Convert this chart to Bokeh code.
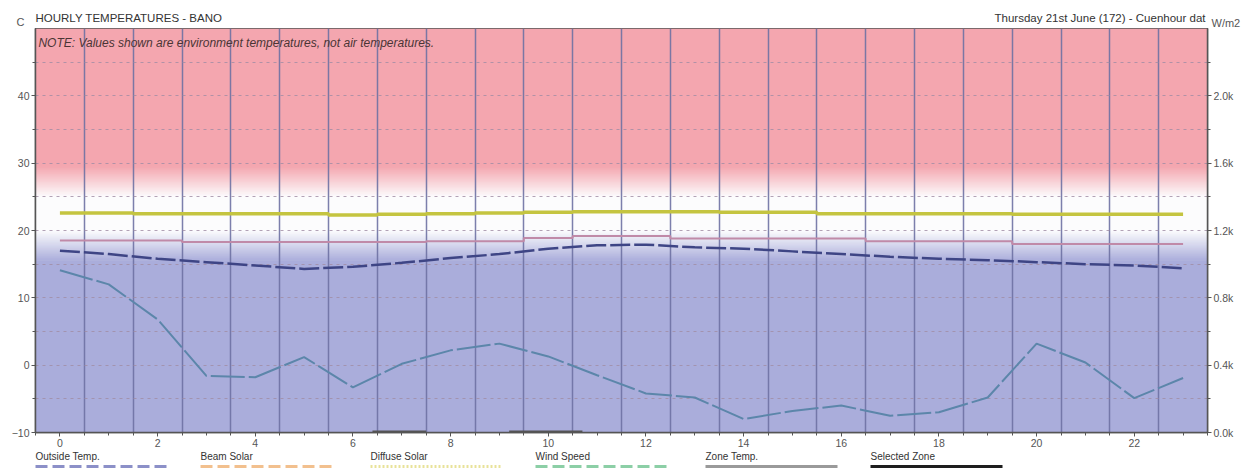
import numpy as np
from bokeh.plotting import figure
from bokeh.models import Range1d, LinearAxis, FixedTicker, Label
from bokeh.embed import file_html
from bokeh.resources import INLINE

# ---------------- data ----------------
hours = list(range(24))
outside_temp = [17.0, 16.5, 15.8, 15.3, 14.8, 14.3, 14.6, 15.2, 15.9, 16.5, 17.3, 17.8,
                17.9, 17.5, 17.3, 16.9, 16.5, 16.1, 15.8, 15.6, 15.3, 15.0, 14.8, 14.4]
lower_temp = [14.1, 12.0, 6.8, -1.6, -1.8, 1.2, -3.3, 0.2, 2.2, 3.2, 1.3, -1.5,
              -4.2, -4.8, -8.0, -6.8, -6.0, -7.5, -7.0, -4.8, 3.2, 0.4, -4.9, -1.9]
zone_a_temp = [22.6, 22.6, 22.5, 22.5, 22.5, 22.5, 22.3, 22.4, 22.5, 22.6, 22.7, 22.8,
               22.8, 22.8, 22.7, 22.7, 22.5, 22.5, 22.5, 22.5, 22.4, 22.4, 22.4, 22.4]
zone_b_temp = [18.5, 18.5, 18.5, 18.3, 18.3, 18.3, 18.3, 18.3, 18.4, 18.4, 18.9, 19.2,
               19.2, 18.8, 18.8, 18.8, 18.8, 18.4, 18.4, 18.4, 18.0, 18.0, 18.0, 18.0]
axis_seg_start = [6.4, 9.2]
axis_seg_end = [7.5, 10.7]

temp_ticks = [-10, 0, 10, 20, 30, 40]
temp_minor = [-5, 5, 15, 25, 35, 45]
solar_ticks = [0, 400, 800, 1200, 1600, 2000]
solar_labels = ["0.0k", "0.4k", "0.8k", "1.2k", "1.6k", "2.0k"]
hour_ticks = list(range(0, 23, 2))

legend_names = ["Outside Temp.", "Beam Solar", "Diffuse Solar", "Wind Speed", "Zone Temp.", "Selected Zone"]
legend_colors = ["#8c90c8", "#f2c08e", "#e8e29a", "#8ccfa6", "#9a9a9a", "#1e1e1e"]
legend_dashes = ["12 5", "12 5", "2 2", "12 5", "solid", "solid"]

title_left = "HOURLY TEMPERATURES - BANO"
title_right = "Thursday 21st June (172) - Cuenhour dat"
note_text = "NOTE: Values shown are environment temperatures, not air temperatures."

FONT = "Liberation Sans"
W = 1244
FRAME_L = 35
FRAME_R = 1207


def strip(height):
    f = figure(width=W, height=height, x_range=Range1d(0, W), y_range=Range1d(0, height),
               output_backend="svg", toolbar_location=None,
               x_axis_location=None, y_axis_location=None,
               min_border_left=0, min_border_right=0, min_border_top=0, min_border_bottom=0)
    f.grid.visible = False
    f.outline_line_color = None
    return f


# ---------------- header strip ----------------
hd = strip(28)
hd.add_layout(Label(x=FRAME_L, y=11, text=title_left, text_font=FONT, text_font_size="11.5px",
                    text_color="#333333", text_baseline="middle", text_align="left"))
hd.add_layout(Label(x=FRAME_R - 2, y=11, text=title_right, text_font=FONT, text_font_size="11.5px",
                    text_color="#333333", text_baseline="middle", text_align="right"))
hd.add_layout(Label(x=20, y=1, text="C", text_font=FONT, text_font_size="11px",
                    text_color="#555555", text_baseline="bottom", text_align="center"))
hd.add_layout(Label(x=FRAME_R + 4, y=0, text="W/m2", text_font=FONT, text_font_size="11px",
                    text_color="#555555", text_baseline="bottom", text_align="left"))

# ---------------- main figure ----------------
p = figure(width=W, height=422, x_range=Range1d(-0.5, 23.5), y_range=Range1d(-10, 50),
           output_backend="svg", toolbar_location=None,
           min_border_left=FRAME_L, min_border_right=W - FRAME_R, min_border_top=0,
           min_border_bottom=18)
p.extra_y_ranges = {"solar": Range1d(0, 2400)}

# background gradient (style)
pink = (244, 166, 175)
white = (252, 252, 253)
blue = (170, 173, 219)
stop_t = [15.5, 20.0, 25.0, 29.5]
stop_c = [blue, white, white, pink]
p.quad(left=-0.5, right=23.5, bottom=-10, top=15.6, fill_color="#%02x%02x%02x" % blue,
       line_color=None, level="underlay")
p.quad(left=-0.5, right=23.5, bottom=29.4, top=50, fill_color="#%02x%02x%02x" % pink,
       line_color=None, level="underlay")
edges = np.linspace(15.5, 29.5, 141)
mids = (edges[:-1] + edges[1:]) / 2
cols = []
for m in mids:
    r = np.interp(m, stop_t, [c[0] for c in stop_c])
    g = np.interp(m, stop_t, [c[1] for c in stop_c])
    b = np.interp(m, stop_t, [c[2] for c in stop_c])
    cols.append("#%02x%02x%02x" % (int(round(r)), int(round(g)), int(round(b))))
p.quad(left=-0.5, right=23.5, bottom=edges[:-1], top=edges[1:] + 0.12,
       fill_color=cols, line_color=None, level="underlay")

# grids
p.xgrid.ticker = FixedTicker(ticks=[h + 0.5 for h in range(23)])
p.xgrid.grid_line_color = "#6e71a3"
p.xgrid.grid_line_width = 1.5
p.xgrid.grid_line_alpha = 0.9
p.ygrid.ticker = FixedTicker(ticks=[t for t in range(-5, 50, 5)])
p.ygrid.grid_line_color = "#a08ca4"
p.ygrid.grid_line_dash = "3 4"
p.ygrid.grid_line_alpha = 0.8
p.ygrid.grid_line_width = 1

p.outline_line_color = "#555555"
p.outline_line_width = 1.5

# series
p.step(hours, zone_a_temp, mode="center", line_color="#c4c440", line_width=3.5)
p.step(hours, zone_b_temp, mode="center", line_color="#c08aa8", line_width=2)
p.line(hours, outside_temp, line_color="#3e4585", line_width=2.5, line_dash="20 4")
p.line(hours, lower_temp, line_color="#5c86aa", line_width=2, line_dash="34 4")
p.segment(x0=axis_seg_start, y0=-10, x1=axis_seg_end, y1=-10, line_color="#555555", line_width=4)

# axes
for ax in p.xaxis:
    ax.ticker = FixedTicker(ticks=hour_ticks, minor_ticks=[i * 0.5 for i in range(-1, 48)])
for ax in p.yaxis:
    ax.ticker = FixedTicker(ticks=temp_ticks, minor_ticks=temp_minor)

right = LinearAxis(y_range_name="solar",
                   ticker=FixedTicker(ticks=solar_ticks, minor_ticks=[200, 600, 1000, 1400, 1800, 2200]),
                   major_label_overrides={t: l for t, l in zip(solar_ticks, solar_labels)})
p.add_layout(right, "right")

for ax in [p.xaxis[0], p.yaxis[0], right]:
    ax.axis_line_color = "#555555"
    ax.axis_line_width = 1.5
    ax.major_tick_line_color = "#555555"
    ax.minor_tick_line_color = "#555555"
    ax.major_tick_in = 0
    ax.major_tick_out = 4
    ax.minor_tick_in = 0
    ax.minor_tick_out = 3
    ax.major_label_text_font = FONT
    ax.major_label_text_font_size = "10.5px"
    ax.major_label_text_color = "#555555"
    ax.major_label_standoff = 2

p.add_layout(Label(x=-0.44, y=48.9, text=note_text, text_font=FONT, text_font_size="12px",
                   text_font_style="italic", text_color="#4a3535", text_baseline="top",
                   text_align="left"))

# ---------------- legend strip ----------------
lg = strip(19)
x_start = [35, 200, 370, 535, 705, 870]
for xs, name, col, dash in zip(x_start, legend_names, legend_colors, legend_dashes):
    lg.add_layout(Label(x=xs, y=13, text=name, text_font=FONT, text_font_size="10px",
                        text_color="#333333", text_baseline="middle", text_align="left"))
    lg.line([xs, xs + 132], [3, 3], line_color=col, line_width=3, line_dash=dash)

open("out.html", "w").write(file_html((hd, p, lg), INLINE))
